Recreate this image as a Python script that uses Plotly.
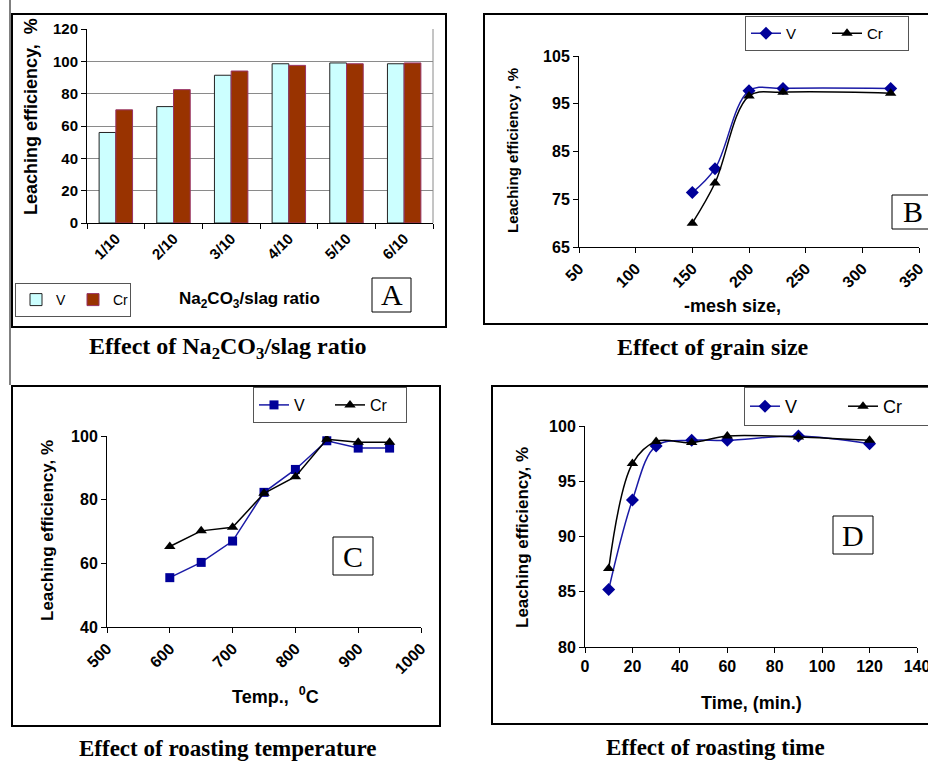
import plotly.graph_objects as go

# ---------------- data ----------------
ratio_labels = ["1/10", "2/10", "3/10", "4/10", "5/10", "6/10"]
a_v = [56, 72, 91.4, 98.5, 99, 98.5]
a_cr = [70, 82.5, 94, 97.5, 98.5, 99]

mesh = [150, 170, 200, 230, 325]
b_v = [76.4, 81.4, 97.7, 98.2, 98.2]
b_cr = [70, 78.4, 96.6, 97.4, 97.2]

temp = [600, 650, 700, 750, 800, 850, 900, 950]
c_v = [55.5, 60.3, 67, 82.3, 89.5, 98.5, 96.2, 96.2]
c_cr = [65.3, 70.2, 71.3, 82, 87.2, 99, 98, 98]

rtime = [10, 20, 30, 45, 60, 90, 120]
d_v = [85.2, 93.3, 98.2, 98.7, 98.7, 99.1, 98.4]
d_cr = [87.1, 96.6, 98.6, 98.5, 99.1, 99.0, 98.7]

W, H = 928, 761
def px(x): return x / W
def py(y): return 1 - y / H

SANS = "Liberation Sans"
SERIF = "Liberation Serif"
BLUE = "#000099"
tickfont = dict(family=SANS, size=16, color="black", weight="bold")

fig = go.Figure()

# ---- A: bars ----
fig.add_trace(go.Bar(x=ratio_labels, y=a_v, name="V", xaxis="x", yaxis="y",
                     marker=dict(color="#CCFFFF", line=dict(color="#222222", width=1)),
                     legend="legend"))
fig.add_trace(go.Bar(x=ratio_labels, y=a_cr, name="Cr", xaxis="x", yaxis="y",
                     marker=dict(color="#993300", line=dict(color="#993366", width=1)),
                     legend="legend"))

# ---- B ----
fig.add_trace(go.Scatter(x=mesh, y=b_v, name="V", xaxis="x2", yaxis="y2", mode="lines+markers",
                         line=dict(color="#1a1aa6", width=1.5, shape="spline"),
                         marker=dict(symbol="diamond", size=10, color=BLUE), legend="legend2"))
fig.add_trace(go.Scatter(x=mesh, y=b_cr, name="Cr", xaxis="x2", yaxis="y2", mode="lines+markers",
                         line=dict(color="black", width=1.5, shape="spline"),
                         marker=dict(symbol="triangle-up", size=10, color="black"), legend="legend2"))

# ---- C ----
fig.add_trace(go.Scatter(x=temp, y=c_v, name="V", xaxis="x3", yaxis="y3", mode="lines+markers",
                         line=dict(color="#1a1aa6", width=1.5),
                         marker=dict(symbol="square", size=9, color=BLUE), legend="legend3"))
fig.add_trace(go.Scatter(x=temp, y=c_cr, name="Cr", xaxis="x3", yaxis="y3", mode="lines+markers",
                         line=dict(color="black", width=1.5),
                         marker=dict(symbol="triangle-up", size=10, color="black"), legend="legend3"))

# ---- D ----
fig.add_trace(go.Scatter(x=rtime, y=d_v, name="V", xaxis="x4", yaxis="y4", mode="lines+markers",
                         line=dict(color="#1a1aa6", width=1.5, shape="spline"),
                         marker=dict(symbol="diamond", size=10, color=BLUE), legend="legend4"))
fig.add_trace(go.Scatter(x=rtime, y=d_cr, name="Cr", xaxis="x4", yaxis="y4", mode="lines+markers",
                         line=dict(color="black", width=1.5, shape="spline"),
                         marker=dict(symbol="triangle-up", size=10, color="black"), legend="legend4"))

def ax(domain, **kw):
    d = dict(domain=domain, showline=True, linecolor="black", linewidth=1,
             ticks="outside", ticklen=5, tickcolor="black", tickfont=tickfont,
             showgrid=False, zeroline=False, fixedrange=True, automargin=False,
             ticklabeloverflow="allow")
    d.update(kw)
    return d

legbase = dict(bgcolor="white", bordercolor="#555555", borderwidth=1,
               orientation="h", xanchor="left", yanchor="top", traceorder="normal",
               entrywidthmode="pixels")

fig.update_layout(
    width=W, height=H, margin=dict(l=0, r=0, t=0, b=0, autoexpand=False),
    paper_bgcolor="white", plot_bgcolor="white",
    barmode="group", bargap=0.42, bargroupgap=0,
    xaxis=ax([px(87), px(433)], type="category", tickson="boundaries", tickangle=-45,
             anchor="y", tickfont=dict(family=SANS, size=15, color="black", weight="bold")),
    yaxis=ax([py(223), py(29)], range=[0, 120], dtick=20, anchor="x",
             showgrid=True, gridcolor="#8a8a8a", gridwidth=1,
             tickfont=dict(family=SANS, size=15, color="black", weight="bold")),
    xaxis2=ax([px(579), px(919)], range=[50, 350], dtick=50, tickangle=-45, anchor="y2"),
    yaxis2=ax([py(247), py(56)], range=[65, 105], tick0=65, dtick=10, anchor="x2"),
    xaxis3=ax([px(107), px(421)], range=[500, 1000], dtick=100, tickangle=-45, anchor="y3"),
    yaxis3=ax([py(627), py(436)], range=[40, 100], dtick=20, anchor="x3"),
    xaxis4=ax([px(585), px(917)], range=[0, 140], dtick=20, tickangle=0, anchor="y4"),
    yaxis4=ax([py(647), py(426)], range=[80, 100], dtick=5, anchor="x4"),
    legend=dict(legbase, x=px(15), y=py(283), entrywidth=12, itemwidth=30,
                font=dict(family=SANS, size=14, color="black")),
    legend2=dict(legbase, x=px(745), y=py(16), entrywidth=36,
                 font=dict(family=SANS, size=15, color="black")),
    legend3=dict(legbase, x=px(253), y=py(387), entrywidth=31,
                 font=dict(family=SANS, size=16, color="black")),
    legend4=dict(legbase, x=px(744), y=py(387), entrywidth=53,
                 font=dict(family=SANS, size=18, color="black")),
)

shapes = []
def rect(x0, y0, x1, y1, w=2, color="black"):
    shapes.append(dict(type="rect", xref="paper", yref="paper",
                       x0=px(x0), x1=px(x1), y0=py(y1), y1=py(y0),
                       line=dict(color=color, width=w), fillcolor="rgba(0,0,0,0)", layer="below"))
def line(x0, y0, x1, y1, w=1, color="black"):
    shapes.append(dict(type="line", xref="paper", yref="paper",
                       x0=px(x0), x1=px(x1), y0=py(y0), y1=py(y1),
                       line=dict(color=color, width=w)))

# panel frames
rect(12, 14, 446, 327)
rect(484, 14, 940, 324)
rect(12, 386, 440, 726)
rect(492, 386, 940, 724)
line(10, 0, 10, 385)
# A plot frame right side
line(433, 29, 433, 223, color="#8a8a8a")
# letter boxes
rect(372, 278, 411, 312, w=1)
rect(892, 195, 940, 229, w=1)
rect(333, 537, 373, 575, w=1)
rect(833, 516, 873, 554, w=1)

ann = []
def text(x, y, s, size, family=SANS, bold=True, angle=0, xanchor="center"):
    ann.append(dict(xref="paper", yref="paper", x=px(x), y=py(y), text=s, showarrow=False,
                    textangle=angle, xanchor=xanchor, yanchor="middle",
                    font=dict(family=family, size=size, color="black",
                              weight="bold" if bold else "normal")))

# letters
text(391.5, 295, "A", 30, SERIF, bold=False)
text(913, 212, "B", 30, SERIF, bold=False)
text(353, 556, "C", 30, SERIF, bold=False)
text(853, 535, "D", 30, SERIF, bold=False)

# axis titles
text(31, 117, "Leaching efficiency,  %", 18, angle=-90)
text(249, 300, "Na<sub>2</sub>CO<sub>3</sub>/slag ratio", 17)
text(512, 151, "Leaching efficiency , %", 15, angle=-90)
text(732, 306, "-mesh size,", 18)
text(47, 531, "Leaching efficiency, %", 17, angle=-90)
text(275, 695, "Temp.,  <sup>0</sup>C", 18)
text(522, 538, "Leaching efficiency, %", 17, angle=-90)
text(751, 703, "Time, (min.)", 18)

# captions
text(227, 348, "Effect of Na<sub>2</sub>CO<sub>3</sub>/slag ratio", 24, SERIF)
text(713, 347, "Effect of grain size", 24, SERIF)
text(227, 748, "Effect of roasting temperature", 23, SERIF)
text(715, 747, "Effect of roasting time", 23, SERIF)

fig.update_layout(shapes=shapes, annotations=ann)
fig.write_html("out.html", config={"displayModeBar": False},
               post_script="document.body.style.margin='0';document.body.style.padding='0';"
                           "document.body.style.overflow='hidden';")
